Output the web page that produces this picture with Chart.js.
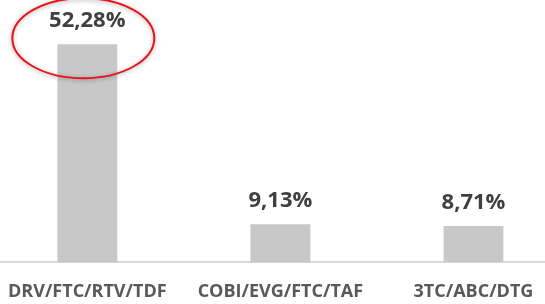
<!DOCTYPE html>
<html>
<head>
<meta charset="utf-8">
<script src="https://cdn.jsdelivr.net/npm/chart.js@4/dist/chart.umd.min.js"></script>
<style>
  html, body { margin: 0; padding: 0; background: #fff; overflow: hidden; }
  #wrap { position: absolute; left: -11px; top: 0; width: 581px; height: 304px; }
</style>
</head>
<body>
<div id="wrap"><canvas id="chart"></canvas></div>
<script>
const regimens = ["DRV/FTC/RTV/TDF", "COBI/EVG/FTC/TAF", "3TC/ABC/DTG"]
const shares = [52.28, 9.13, 8.71]
const yMax = 60

const fmt = v => v.toFixed(2).replace(".", ",") + "%"

// value labels above each bar
const valueLabels = {
    id: "valueLabels",
    afterDatasetsDraw: chart => {
        const { ctx } = chart
        ctx.save()
        ctx.font = "bold 22px 'Open Sans'"
        ctx.fillStyle = "#404040"
        ctx.textAlign = "center"
        ctx.textBaseline = "alphabetic"
        chart.getDatasetMeta(0).data.forEach((bar, i) => {
            ctx.fillText(fmt(shares[i]), bar.x, bar.y - 17)
        })
        ctx.restore()
    }
}

// red ellipse highlighting the first value
const highlight = {
    id: "highlight",
    afterDraw: chart => {
        const bar = chart.getDatasetMeta(0).data[0]
        const { ctx } = chart
        ctx.save()
        ctx.shadowColor = "rgba(0,0,0,0.35)"
        ctx.shadowBlur = 4
        ctx.shadowOffsetY = 1
        ctx.strokeStyle = "#e8141b"
        ctx.lineWidth = 2
        ctx.beginPath()
        ctx.ellipse(bar.x - 4, bar.y - 6, 71, 40, 0, 0, Math.PI * 2)
        ctx.stroke()
        ctx.restore()
    }
}

new Chart(document.getElementById("chart"), {
    type: "bar",
    data: {
        labels: regimens,
        datasets: [{
            data: shares,
            backgroundColor: "#c8c8c8",
            barPercentage: 0.62,
            categoryPercentage: 0.5
        }]
    },
    options: {
        responsive: true,
        maintainAspectRatio: false,
        animation: false,
        layout: { padding: { top: 12, bottom: -18, left: 0, right: 0 } },
        plugins: { legend: { display: false }, tooltip: { enabled: false } },
        scales: {
            x: {
                grid: { display: false, drawTicks: false },
                border: { display: true, color: "#d9d9d9", width: 2 },
                ticks: {
                    color: "#595959",
                    font: { family: "'Open Sans'", size: 18, weight: "bold" },
                    padding: 19,
                    maxRotation: 0,
                    autoSkip: false
                }
            },
            y: { display: false, min: 0, max: yMax }
        }
    },
    plugins: [valueLabels, highlight]
})
</script>
</body>
</html>
